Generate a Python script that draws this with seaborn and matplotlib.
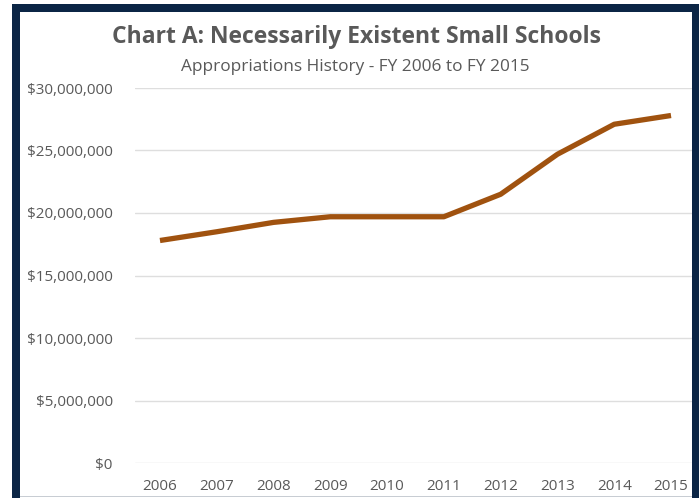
import numpy as np
import pandas as pd
import matplotlib
matplotlib.use("Agg")
import matplotlib.pyplot as plt
import matplotlib.patches as patches
from matplotlib.ticker import FuncFormatter
import seaborn as sns

# Data
years = [2006, 2007, 2008, 2009, 2010, 2011, 2012, 2013, 2014, 2015]
appropriations = [17.8e6, 18.5e6, 19.25e6, 19.7e6, 19.7e6, 19.7e6, 21.5e6, 24.7e6, 27.1e6, 27.8e6]
y_ticks = [0, 5e6, 10e6, 15e6, 20e6, 25e6, 30e6]

df = pd.DataFrame({'year': years, 'amount': appropriations})

sns.set_style("white")
plt.rcParams['font.family'] = ['Open Sans', 'DejaVu Sans']

W, H = 699, 498
fig = plt.figure(figsize=(W / 100, H / 100), dpi=100)
fig.patch.set_facecolor('white')

# plot area (pixel geometry from reference)
x0, x1 = 135, 699.4
y_top, y_bot = 88, 463
ax = fig.add_axes([x0 / W, (H - y_bot) / H, (x1 - x0) / W, (y_bot - y_top) / H])

sns.lineplot(data=df, x='year', y='amount', ax=ax, color='#A0520F', linewidth=3.8,
             solid_capstyle='butt', zorder=3)

ax.set_xlim(2005.56, 2015.5)
ax.set_ylim(0, 30e6)
ax.set_xticks(years)
ax.set_yticks(y_ticks)
ax.yaxis.set_major_formatter(FuncFormatter(lambda v, p: '${:,.0f}'.format(v)))
ax.grid(axis='y', color='#DEDEDE', linewidth=1)
ax.set_axisbelow(True)
for s in ax.spines.values():
    s.set_visible(False)
ax.tick_params(axis='both', length=0, labelsize=11, labelcolor='#595959')
ax.tick_params(axis='y', pad=16)
ax.tick_params(axis='x', pad=11.5)
ax.set_xlabel('')
ax.set_ylabel('')

# titles
fig.text(356 / W, 1 - 37 / H, 'Chart A: Necessarily Existent Small Schools', ha='center', va='center',
         fontsize=16.5, fontweight='bold', color='#595959')
fig.text(355 / W, 1 - 67 / H, 'Appropriations History - FY 2006 to FY 2015', ha='center', va='center',
         fontsize=12.4, color='#595959')

# navy frame
navy = '#0B2545'
def px_rect(x, y, w, h, color):
    fig.patches.append(patches.Rectangle((x / W, 1 - (y + h) / H), w / W, h / H,
                                         transform=fig.transFigure, facecolor=color,
                                         edgecolor='none', zorder=10))
px_rect(12, 4, 687, 8, navy)     # top
px_rect(12, 4, 8, 494, navy)     # left
px_rect(692, 4, 7, 494, navy)    # right
px_rect(20, 496, 672, 1, '#C8CDD3')  # bottom edge line

fig.savefig('out.png', dpi=100, facecolor='white')
